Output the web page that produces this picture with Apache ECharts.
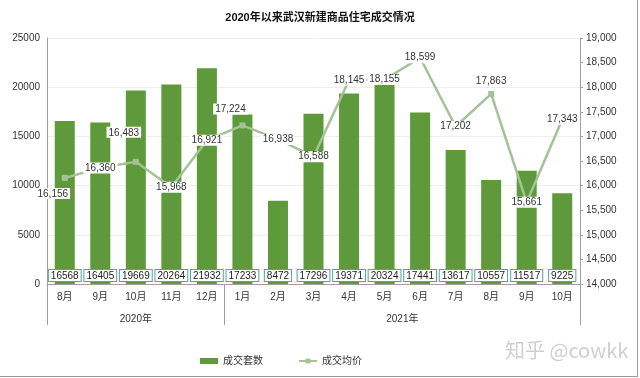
<!DOCTYPE html>
<html><head><meta charset="utf-8">
<script src="https://cdn.jsdelivr.net/npm/echarts@6/dist/echarts.min.js"></script>
<style>html,body{margin:0;padding:0;background:#fff}#c{width:640px;height:378px}</style>
</head><body><div id="c"></div>
<script>
const months = ['8月','9月','10月','11月','12月','1月','2月','3月','4月','5月','6月','7月','8月','9月','10月'];
const years = ['2020年','2021年'];
const yearSpans = [5, 10];
const sales = [16568,16405,19669,20264,21932,17233,8472,17296,19371,20324,17441,13617,10557,11517,9225];
const prices = [16156,16360,16483,15968,16921,17224,16938,16588,18145,18155,18599,17202,17863,15661,17343];
const leftTicks = [0,5000,10000,15000,20000,25000];
const rightTicks = [14000,14500,15000,15500,16000,16500,17000,17500,18000,18500,19000];

// label placement overrides (style only)
const priceLabelPlacement = {
  0: {position:'bottom', offset:[-12,2]},
  2: {position:'top', offset:[-12,-16]},
  5: {position:'top', offset:[-12,-3]},
  12: {position:'top', offset:[0,0]}
};

const FONT = "'Liberation Sans','Noto Sans CJK SC',sans-serif";
const fmt = v => Number(v).toLocaleString('en-US');

// year centers on a 0..N continuous scale
const yearCenters = [];
let acc = 0;
yearSpans.forEach((s, i) => { yearCenters.push({c: acc + s / 2, name: years[i]}); acc += s; });
const yearBoundaryIdx = [];
acc = 0;
yearSpans.forEach(s => { yearBoundaryIdx.push(acc); acc += s; });

const chart = echarts.init(document.getElementById('c'), null, {renderer:'canvas'});
chart.setOption({
  animation: false,
  backgroundColor: '#fff',
  textStyle: {fontFamily: FONT},
  title: {
    text: '2020年以来武汉新建商品住宅成交情况',
    left: 'center', top: 7,
    textStyle: {fontSize: 11, fontWeight: 'bold', color: '#111', fontFamily: FONT}
  },
  legend: {
    left: 195, top: 351,
    itemGap: 35,
    itemWidth: 18, itemHeight: 6,
    textStyle: {fontSize: 10, color: '#333', fontFamily: FONT},
    data: [
      {name: '成交套数', icon: 'rect'},
      {name: '成交均价'}
    ]
  },
  grid: {left: 47, right: 60, top: 38, bottom: 94, containLabel: false},
  xAxis: [
    {
      type: 'category', data: months, boundaryGap: true,
      axisLine: {show: true, lineStyle: {color: '#a0a0a0', width: 1}},
      axisTick: {show: true, length: 41, lineStyle: {color: '#a0a0a0'},
        interval: (i) => yearBoundaryIdx.indexOf(i) >= 0},
      axisLabel: {fontSize: 10, color: '#333', margin: 8, interval: 0, fontFamily: FONT},
      splitLine: {show: false}
    },
    {
      type: 'value', min: 0, max: months.length, interval: 0.5,
      position: 'bottom', offset: 22,
      axisLine: {show: false}, axisTick: {show: false}, splitLine: {show: false},
      axisLabel: {fontSize: 10, color: '#333', fontFamily: FONT, showMinLabel: true, showMaxLabel: true,
        formatter: v => { const y = yearCenters.find(o => Math.abs(o.c - v) < 1e-6); return y ? y.name : ''; }}
    }
  ],
  yAxis: [
    {
      type: 'value', min: leftTicks[0], max: leftTicks[leftTicks.length-1], interval: leftTicks[1]-leftTicks[0],
      axisLine: {show: true, lineStyle: {color: '#a0a0a0'}},
      axisTick: {show: false},
      axisLabel: {fontSize: 10, color: '#333', margin: 7, fontFamily: FONT, formatter: v => String(v)},
      splitLine: {show: true, lineStyle: {color: '#eeeeee', width: 1}}
    },
    {
      type: 'value', min: rightTicks[0], max: rightTicks[rightTicks.length-1], interval: rightTicks[1]-rightTicks[0],
      position: 'right',
      axisLine: {show: true, lineStyle: {color: '#a0a0a0'}},
      axisTick: {show: true, length: 3, lineStyle: {color: '#a0a0a0'}},
      axisLabel: {fontSize: 10, color: '#333', margin: 6, formatter: fmt, fontFamily: FONT},
      splitLine: {show: false}
    }
  ],
  series: [
    {
      name: '成交套数', type: 'bar', xAxisIndex: 0, yAxisIndex: 0,
      data: sales, barWidth: 20,
      itemStyle: {color: '#5e9a3b'},
      label: {
        show: true, position: 'insideBottom', distance: 3,
        backgroundColor: '#fff', borderColor: '#4fa894', borderWidth: 1,
        padding: [1, 2, 0, 2], fontSize: 10, color: '#222', fontFamily: FONT
      },
      z: 2
    },
    {
      name: '成交均价', type: 'line', xAxisIndex: 0, yAxisIndex: 1,
      data: prices.map((v, i) => ({value: v, label: priceLabelPlacement[i] || {}})),
      symbol: 'rect', symbolSize: 6,
      lineStyle: {color: '#a3c296', width: 2.5},
      itemStyle: {color: '#a3c296'},
      label: {
        show: true, position: 'inside', formatter: p => fmt(p.value),
        backgroundColor: '#fff', padding: [1, 2, 0, 2], fontSize: 10, color: '#333', fontFamily: FONT
      },
      z: 5
    }
  ],
  graphic: [
    {type: 'text', left: 505, top: 340, z: 10,
      style: {text: '知乎 @cowkk', fontSize: 20, fill: '#cfcfcf', fontFamily: "'Noto Sans CJK SC',sans-serif"}},
    {type: 'line', shape: {x1: 0, y1: 376.5, x2: 637.5, y2: 376.5}, style: {stroke: '#9a9a9a', lineWidth: 1}},
    {type: 'line', shape: {x1: 637.5, y1: 0, x2: 637.5, y2: 377}, style: {stroke: '#9a9a9a', lineWidth: 1}}
  ]
});
</script>
</body></html>
